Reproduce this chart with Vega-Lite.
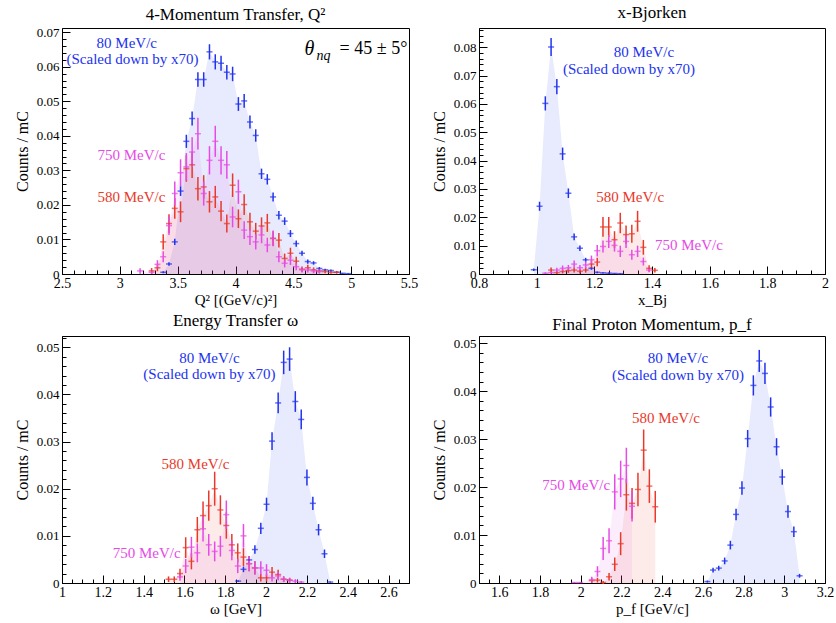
{
  "$schema": "https://vega.github.io/schema/vega-lite/v6.json",
  "padding": {"left": 13, "top": 3, "right": 0, "bottom": 0},
  "columns": 2,
  "spacing": {"row": 62, "column": 70},
  "bounds": "flush",
  "config": {
    "font": "Liberation Serif, Times New Roman, DejaVu Serif, serif",
    "view": {"stroke": "black", "strokeWidth": 1},
    "axis": {"domainColor": "black", "tickColor": "black", "labelColor": "black", "titleColor": "black", "labelFont": "Liberation Serif, Times New Roman, DejaVu Serif, serif", "labelFontSize": 14, "titleFont": "Liberation Serif, Times New Roman, DejaVu Serif, serif", "titleFontSize": 15, "titleFontWeight": "normal", "grid": false, "labelOverlap": false, "labelFlush": false, "labelBound": false, "labelPadding": 3, "titlePadding": 4},
    "axisX": {"labelPadding": 10, "titlePadding": -2},
    "axisY": {"labelPadding": 11, "labelFontSize": 13, "titleFontSize": 16, "titlePadding": 6},
    "title": {"font": "Liberation Serif, Times New Roman, DejaVu Serif, serif", "fontSize": 17, "fontWeight": "normal", "color": "black", "offset": 2},
    "text": {"font": "Liberation Serif, Times New Roman, DejaVu Serif, serif", "fontSize": 15}
  },
  "datasets": {
    "q2": [
      {"x": 3.375, "y": 0.0005, "e": 0.0003, "s": "80"}, {"x": 3.425, "y": 0.0029, "e": 0.0005, "s": "80"}, {"x": 3.475, "y": 0.0093, "e": 0.0009, "s": "80"}, {"x": 3.525, "y": 0.024, "e": 0.0014, "s": "80"}, {"x": 3.575, "y": 0.0384, "e": 0.0019, "s": "80"}, {"x": 3.625, "y": 0.045, "e": 0.002, "s": "80"}, {"x": 3.675, "y": 0.0563, "e": 0.0021, "s": "80"}, {"x": 3.725, "y": 0.0563, "e": 0.0021, "s": "80"}, {"x": 3.775, "y": 0.0643, "e": 0.0022, "s": "80"}, {"x": 3.825, "y": 0.0614, "e": 0.0022, "s": "80"}, {"x": 3.875, "y": 0.061, "e": 0.0022, "s": "80"}, {"x": 3.925, "y": 0.0584, "e": 0.0021, "s": "80"}, {"x": 3.975, "y": 0.0579, "e": 0.0021, "s": "80"}, {"x": 4.025, "y": 0.0492, "e": 0.002, "s": "80"}, {"x": 4.075, "y": 0.0501, "e": 0.002, "s": "80"}, {"x": 4.125, "y": 0.044, "e": 0.0019, "s": "80"}, {"x": 4.175, "y": 0.0401, "e": 0.0018, "s": "80"}, {"x": 4.225, "y": 0.029, "e": 0.0015, "s": "80"}, {"x": 4.275, "y": 0.0274, "e": 0.0015, "s": "80"}, {"x": 4.325, "y": 0.0223, "e": 0.0013, "s": "80"}, {"x": 4.375, "y": 0.017, "e": 0.0012, "s": "80"}, {"x": 4.425, "y": 0.0153, "e": 0.0011, "s": "80"}, {"x": 4.475, "y": 0.0117, "e": 0.001, "s": "80"}, {"x": 4.525, "y": 0.0088, "e": 0.0009, "s": "80"}, {"x": 4.575, "y": 0.006, "e": 0.0007, "s": "80"}, {"x": 4.625, "y": 0.0036, "e": 0.0006, "s": "80"}, {"x": 4.675, "y": 0.0032, "e": 0.0005, "s": "80"}, {"x": 4.725, "y": 0.0016, "e": 0.0004, "s": "80"}, {"x": 4.775, "y": 0.0012, "e": 0.0003, "s": "80"}, {"x": 4.825, "y": 0.001, "e": 0.0003, "s": "80"}, {"x": 4.875, "y": 0.0005, "e": 0.0002, "s": "80"}, {"x": 4.925, "y": 0.0002, "e": 0.0001, "s": "80"}, {"x": 4.975, "y": 0.0001, "e": 0.0001, "s": "80"},
      {"x": 3.275, "y": 0.0009, "e": 0.0008, "s": "580"}, {"x": 3.325, "y": 0.0018, "e": 0.001, "s": "580"}, {"x": 3.375, "y": 0.0093, "e": 0.0022, "s": "580"}, {"x": 3.425, "y": 0.0146, "e": 0.0027, "s": "580"}, {"x": 3.475, "y": 0.019, "e": 0.003, "s": "580"}, {"x": 3.525, "y": 0.018, "e": 0.003, "s": "580"}, {"x": 3.575, "y": 0.0305, "e": 0.0038, "s": "580"}, {"x": 3.625, "y": 0.0316, "e": 0.0038, "s": "580"}, {"x": 3.675, "y": 0.0247, "e": 0.0034, "s": "580"}, {"x": 3.725, "y": 0.0252, "e": 0.0034, "s": "580"}, {"x": 3.775, "y": 0.0209, "e": 0.0031, "s": "580"}, {"x": 3.825, "y": 0.0223, "e": 0.0032, "s": "580"}, {"x": 3.875, "y": 0.0182, "e": 0.0029, "s": "580"}, {"x": 3.925, "y": 0.0146, "e": 0.0026, "s": "580"}, {"x": 3.975, "y": 0.0257, "e": 0.0034, "s": "580"}, {"x": 4.025, "y": 0.016, "e": 0.0027, "s": "580"}, {"x": 4.075, "y": 0.0201, "e": 0.003, "s": "580"}, {"x": 4.125, "y": 0.0151, "e": 0.0026, "s": "580"}, {"x": 4.175, "y": 0.0124, "e": 0.0024, "s": "580"}, {"x": 4.225, "y": 0.0139, "e": 0.0025, "s": "580"}, {"x": 4.275, "y": 0.0148, "e": 0.0026, "s": "580"}, {"x": 4.325, "y": 0.0103, "e": 0.0021, "s": "580"}, {"x": 4.375, "y": 0.0098, "e": 0.0021, "s": "580"}, {"x": 4.425, "y": 0.0045, "e": 0.0014, "s": "580"}, {"x": 4.475, "y": 0.006, "e": 0.0016, "s": "580"}, {"x": 4.525, "y": 0.0037, "e": 0.0013, "s": "580"}, {"x": 4.575, "y": 0.0014, "e": 0.0008, "s": "580"}, {"x": 4.625, "y": 0.0018, "e": 0.0009, "s": "580"}, {"x": 4.675, "y": 0.0012, "e": 0.0007, "s": "580"}, {"x": 4.725, "y": 0.0009, "e": 0.0006, "s": "580"}, {"x": 4.775, "y": 0.0007, "e": 0.0005, "s": "580"}, {"x": 4.825, "y": 0.0005, "e": 0.0004, "s": "580"}, {"x": 4.875, "y": 0.0005, "e": 0.0004, "s": "580"},
      {"x": 3.175, "y": 0.0009, "e": 0.0008, "s": "750"}, {"x": 3.275, "y": 0.0005, "e": 0.0005, "s": "750"}, {"x": 3.325, "y": 0.0028, "e": 0.0012, "s": "750"}, {"x": 3.375, "y": 0.005, "e": 0.0016, "s": "750"}, {"x": 3.425, "y": 0.014, "e": 0.0027, "s": "750"}, {"x": 3.475, "y": 0.0233, "e": 0.0035, "s": "750"}, {"x": 3.525, "y": 0.0293, "e": 0.0039, "s": "750"}, {"x": 3.575, "y": 0.031, "e": 0.004, "s": "750"}, {"x": 3.625, "y": 0.0353, "e": 0.0043, "s": "750"}, {"x": 3.675, "y": 0.0406, "e": 0.0046, "s": "750"}, {"x": 3.725, "y": 0.0233, "e": 0.0035, "s": "750"}, {"x": 3.775, "y": 0.0329, "e": 0.0041, "s": "750"}, {"x": 3.825, "y": 0.0384, "e": 0.0045, "s": "750"}, {"x": 3.875, "y": 0.0329, "e": 0.0041, "s": "750"}, {"x": 3.925, "y": 0.0316, "e": 0.004, "s": "750"}, {"x": 3.975, "y": 0.0165, "e": 0.003, "s": "750"}, {"x": 4.025, "y": 0.0238, "e": 0.0035, "s": "750"}, {"x": 4.075, "y": 0.0127, "e": 0.0026, "s": "750"}, {"x": 4.125, "y": 0.0108, "e": 0.0024, "s": "750"}, {"x": 4.175, "y": 0.0093, "e": 0.0022, "s": "750"}, {"x": 4.225, "y": 0.0113, "e": 0.0024, "s": "750"}, {"x": 4.275, "y": 0.0084, "e": 0.0021, "s": "750"}, {"x": 4.325, "y": 0.0103, "e": 0.0023, "s": "750"}, {"x": 4.375, "y": 0.005, "e": 0.0016, "s": "750"}, {"x": 4.425, "y": 0.0031, "e": 0.0012, "s": "750"}, {"x": 4.475, "y": 0.004, "e": 0.0014, "s": "750"}, {"x": 4.525, "y": 0.0021, "e": 0.001, "s": "750"}, {"x": 4.575, "y": 0.0012, "e": 0.0008, "s": "750"}, {"x": 4.625, "y": 0.0012, "e": 0.0008, "s": "750"}, {"x": 4.675, "y": 0.0009, "e": 0.0007, "s": "750"}, {"x": 4.725, "y": 0.0007, "e": 0.0006, "s": "750"}
    ],
    "xbj": [
      {"x": 0.99, "y": 0.0015, "e": 0.0004, "s": "80"}, {"x": 1.01, "y": 0.0239, "e": 0.0016, "s": "80"}, {"x": 1.03, "y": 0.0602, "e": 0.0025, "s": "80"}, {"x": 1.05, "y": 0.0801, "e": 0.0032, "s": "80"}, {"x": 1.07, "y": 0.0661, "e": 0.0027, "s": "80"}, {"x": 1.09, "y": 0.0424, "e": 0.0022, "s": "80"}, {"x": 1.11, "y": 0.0285, "e": 0.0017, "s": "80"}, {"x": 1.13, "y": 0.0131, "e": 0.0012, "s": "80"}, {"x": 1.15, "y": 0.0091, "e": 0.001, "s": "80"}, {"x": 1.17, "y": 0.005, "e": 0.0007, "s": "80"}, {"x": 1.19, "y": 0.002, "e": 0.0005, "s": "80"}, {"x": 1.21, "y": 0.0006, "e": 0.0003, "s": "80"}, {"x": 1.23, "y": 0.0004, "e": 0.0002, "s": "80"}, {"x": 1.25, "y": 0.0003, "e": 0.0002, "s": "80"}, {"x": 1.27, "y": 0.0002, "e": 0.0001, "s": "80"}, {"x": 1.29, "y": 0.0001, "e": 0.0001, "s": "80"},
      {"x": 1.05, "y": 0.0014, "e": 0.0009, "s": "580"}, {"x": 1.07, "y": 0.0005, "e": 0.0005, "s": "580"}, {"x": 1.09, "y": 0.0009, "e": 0.0007, "s": "580"}, {"x": 1.11, "y": 0.0012, "e": 0.0008, "s": "580"}, {"x": 1.13, "y": 0.0014, "e": 0.0009, "s": "580"}, {"x": 1.15, "y": 0.001, "e": 0.0008, "s": "580"}, {"x": 1.17, "y": 0.0014, "e": 0.0009, "s": "580"}, {"x": 1.19, "y": 0.0035, "e": 0.0014, "s": "580"}, {"x": 1.21, "y": 0.0042, "e": 0.0015, "s": "580"}, {"x": 1.23, "y": 0.0166, "e": 0.0035, "s": "580"}, {"x": 1.25, "y": 0.0166, "e": 0.0035, "s": "580"}, {"x": 1.27, "y": 0.0121, "e": 0.003, "s": "580"}, {"x": 1.29, "y": 0.018, "e": 0.0036, "s": "580"}, {"x": 1.31, "y": 0.0139, "e": 0.0032, "s": "580"}, {"x": 1.33, "y": 0.0142, "e": 0.0032, "s": "580"}, {"x": 1.35, "y": 0.0186, "e": 0.0037, "s": "580"}, {"x": 1.37, "y": 0.0094, "e": 0.0026, "s": "580"}, {"x": 1.39, "y": 0.002, "e": 0.0011, "s": "580"}, {"x": 1.41, "y": 0.0013, "e": 0.0008, "s": "580"},
      {"x": 1.03, "y": 0.0003, "e": 0.0003, "s": "750"}, {"x": 1.05, "y": 0.0005, "e": 0.0004, "s": "750"}, {"x": 1.07, "y": 0.0014, "e": 0.0008, "s": "750"}, {"x": 1.09, "y": 0.002, "e": 0.001, "s": "750"}, {"x": 1.11, "y": 0.0022, "e": 0.001, "s": "750"}, {"x": 1.13, "y": 0.0035, "e": 0.0013, "s": "750"}, {"x": 1.15, "y": 0.0022, "e": 0.001, "s": "750"}, {"x": 1.17, "y": 0.0032, "e": 0.0012, "s": "750"}, {"x": 1.19, "y": 0.005, "e": 0.0015, "s": "750"}, {"x": 1.21, "y": 0.0082, "e": 0.002, "s": "750"}, {"x": 1.23, "y": 0.0097, "e": 0.0021, "s": "750"}, {"x": 1.25, "y": 0.0115, "e": 0.0023, "s": "750"}, {"x": 1.27, "y": 0.0101, "e": 0.0022, "s": "750"}, {"x": 1.29, "y": 0.008, "e": 0.002, "s": "750"}, {"x": 1.31, "y": 0.0115, "e": 0.0023, "s": "750"}, {"x": 1.33, "y": 0.0068, "e": 0.0018, "s": "750"}, {"x": 1.35, "y": 0.008, "e": 0.002, "s": "750"}, {"x": 1.37, "y": 0.0044, "e": 0.0014, "s": "750"}, {"x": 1.39, "y": 0.0014, "e": 0.0008, "s": "750"}
    ],
    "omega": [
      {"x": 1.863, "y": 0.0004, "e": 0.0002, "s": "80"}, {"x": 1.889, "y": 0.0029, "e": 0.0006, "s": "80"}, {"x": 1.917, "y": 0.0049, "e": 0.0008, "s": "80"}, {"x": 1.945, "y": 0.0071, "e": 0.0009, "s": "80"}, {"x": 1.974, "y": 0.0116, "e": 0.0012, "s": "80"}, {"x": 2.002, "y": 0.0167, "e": 0.0014, "s": "80"}, {"x": 2.029, "y": 0.0301, "e": 0.0019, "s": "80"}, {"x": 2.059, "y": 0.0382, "e": 0.0022, "s": "80"}, {"x": 2.086, "y": 0.0468, "e": 0.0025, "s": "80"}, {"x": 2.115, "y": 0.0475, "e": 0.0025, "s": "80"}, {"x": 2.143, "y": 0.0385, "e": 0.0022, "s": "80"}, {"x": 2.172, "y": 0.0347, "e": 0.0021, "s": "80"}, {"x": 2.2, "y": 0.0224, "e": 0.0017, "s": "80"}, {"x": 2.229, "y": 0.0169, "e": 0.0014, "s": "80"}, {"x": 2.257, "y": 0.0113, "e": 0.0012, "s": "80"}, {"x": 2.286, "y": 0.0062, "e": 0.0009, "s": "80"}, {"x": 2.314, "y": 0.0002, "e": 0.0001, "s": "80"},
      {"x": 1.522, "y": 0.0008, "e": 0.0006, "s": "580"}, {"x": 1.55, "y": 0.0008, "e": 0.0006, "s": "580"}, {"x": 1.578, "y": 0.002, "e": 0.001, "s": "580"}, {"x": 1.606, "y": 0.0075, "e": 0.0022, "s": "580"}, {"x": 1.634, "y": 0.0046, "e": 0.0017, "s": "580"}, {"x": 1.663, "y": 0.0113, "e": 0.0027, "s": "580"}, {"x": 1.691, "y": 0.0143, "e": 0.003, "s": "580"}, {"x": 1.719, "y": 0.0164, "e": 0.0032, "s": "580"}, {"x": 1.748, "y": 0.02, "e": 0.0036, "s": "580"}, {"x": 1.776, "y": 0.0155, "e": 0.0031, "s": "580"}, {"x": 1.805, "y": 0.0122, "e": 0.0028, "s": "580"}, {"x": 1.832, "y": 0.0081, "e": 0.0023, "s": "580"}, {"x": 1.861, "y": 0.0064, "e": 0.002, "s": "580"}, {"x": 1.889, "y": 0.0055, "e": 0.0019, "s": "580"}, {"x": 1.917, "y": 0.0041, "e": 0.0016, "s": "580"}, {"x": 1.945, "y": 0.0032, "e": 0.0014, "s": "580"}, {"x": 1.974, "y": 0.0011, "e": 0.0008, "s": "580"}, {"x": 2.002, "y": 0.0011, "e": 0.0008, "s": "580"}, {"x": 2.029, "y": 0.0023, "e": 0.0011, "s": "580"}, {"x": 2.059, "y": 0.0018, "e": 0.001, "s": "580"}, {"x": 2.086, "y": 0.0008, "e": 0.0006, "s": "580"}, {"x": 2.115, "y": 0.0006, "e": 0.0005, "s": "580"},
      {"x": 1.578, "y": 0.0013, "e": 0.0008, "s": "750"}, {"x": 1.606, "y": 0.0036, "e": 0.0015, "s": "750"}, {"x": 1.634, "y": 0.0076, "e": 0.0022, "s": "750"}, {"x": 1.663, "y": 0.0064, "e": 0.002, "s": "750"}, {"x": 1.691, "y": 0.0115, "e": 0.0027, "s": "750"}, {"x": 1.719, "y": 0.0081, "e": 0.0023, "s": "750"}, {"x": 1.748, "y": 0.0067, "e": 0.0021, "s": "750"}, {"x": 1.776, "y": 0.0078, "e": 0.0022, "s": "750"}, {"x": 1.805, "y": 0.0145, "e": 0.003, "s": "750"}, {"x": 1.832, "y": 0.0069, "e": 0.0021, "s": "750"}, {"x": 1.861, "y": 0.0036, "e": 0.0015, "s": "750"}, {"x": 1.889, "y": 0.01, "e": 0.0025, "s": "750"}, {"x": 1.917, "y": 0.0041, "e": 0.0016, "s": "750"}, {"x": 1.945, "y": 0.0032, "e": 0.0014, "s": "750"}, {"x": 1.974, "y": 0.0032, "e": 0.0014, "s": "750"}, {"x": 2.002, "y": 0.0027, "e": 0.0013, "s": "750"}, {"x": 2.029, "y": 0.0011, "e": 0.0008, "s": "750"}, {"x": 2.059, "y": 0.0015, "e": 0.0009, "s": "750"}, {"x": 2.086, "y": 0.0008, "e": 0.0006, "s": "750"}, {"x": 2.115, "y": 0.0006, "e": 0.0005, "s": "750"}, {"x": 2.143, "y": 0.0004, "e": 0.0004, "s": "750"}, {"x": 2.172, "y": 0.0002, "e": 0.0002, "s": "750"}
    ],
    "pf": [
      {"x": 2.622, "y": 0.0003, "e": 0.0002, "s": "80"}, {"x": 2.65, "y": 0.0027, "e": 0.0005, "s": "80"}, {"x": 2.678, "y": 0.0031, "e": 0.0005, "s": "80"}, {"x": 2.707, "y": 0.0046, "e": 0.0007, "s": "80"}, {"x": 2.735, "y": 0.0079, "e": 0.0009, "s": "80"}, {"x": 2.763, "y": 0.0143, "e": 0.0012, "s": "80"}, {"x": 2.792, "y": 0.0198, "e": 0.0014, "s": "80"}, {"x": 2.82, "y": 0.0301, "e": 0.0018, "s": "80"}, {"x": 2.848, "y": 0.0412, "e": 0.0021, "s": "80"}, {"x": 2.877, "y": 0.0463, "e": 0.0023, "s": "80"}, {"x": 2.905, "y": 0.0437, "e": 0.0022, "s": "80"}, {"x": 2.933, "y": 0.0367, "e": 0.002, "s": "80"}, {"x": 2.962, "y": 0.0284, "e": 0.0018, "s": "80"}, {"x": 2.99, "y": 0.0221, "e": 0.0016, "s": "80"}, {"x": 3.018, "y": 0.0149, "e": 0.0013, "s": "80"}, {"x": 3.047, "y": 0.0107, "e": 0.0011, "s": "80"}, {"x": 3.075, "y": 0.0015, "e": 0.0004, "s": "80"},
      {"x": 2.054, "y": 0.0005, "e": 0.0005, "s": "580"}, {"x": 2.082, "y": 0.0006, "e": 0.0005, "s": "580"}, {"x": 2.11, "y": 0.0001, "e": 0.0003, "s": "580"}, {"x": 2.139, "y": 0.0013, "e": 0.0008, "s": "580"}, {"x": 2.167, "y": 0.0039, "e": 0.0014, "s": "580"}, {"x": 2.196, "y": 0.0082, "e": 0.0024, "s": "580"}, {"x": 2.224, "y": 0.0184, "e": 0.0033, "s": "580"}, {"x": 2.252, "y": 0.0166, "e": 0.0032, "s": "580"}, {"x": 2.281, "y": 0.0195, "e": 0.0035, "s": "580"}, {"x": 2.309, "y": 0.0277, "e": 0.0043, "s": "580"}, {"x": 2.337, "y": 0.0202, "e": 0.0035, "s": "580"}, {"x": 2.366, "y": 0.0159, "e": 0.0033, "s": "580"},
      {"x": 1.969, "y": 0.0001, "e": 0.0001, "s": "750"}, {"x": 1.997, "y": 0.0001, "e": 0.0001, "s": "750"}, {"x": 2.054, "y": 0.0007, "e": 0.0006, "s": "750"}, {"x": 2.082, "y": 0.0024, "e": 0.0011, "s": "750"}, {"x": 2.11, "y": 0.0072, "e": 0.0024, "s": "750"}, {"x": 2.139, "y": 0.0088, "e": 0.0026, "s": "750"}, {"x": 2.167, "y": 0.019, "e": 0.0037, "s": "750"}, {"x": 2.196, "y": 0.0217, "e": 0.0038, "s": "750"}, {"x": 2.224, "y": 0.0245, "e": 0.0037, "s": "750"}, {"x": 2.252, "y": 0.016, "e": 0.0032, "s": "750"}
    ],
    "q2lab": [
      {"x": 3.06, "y": 0.0668, "t": "80 MeV/c", "s": "80"}, {"x": 3.11, "y": 0.0621, "t": "(Scaled down by x70)", "s": "80"}, {"x": 3.1, "y": 0.0344, "t": "750 MeV/c", "s": "750"}, {"x": 3.1, "y": 0.0222, "t": "580 MeV/c", "s": "580"}
    ],
    "xbjlab": [
      {"x": 1.372, "y": 0.0785, "t": "80 MeV/c", "s": "80"}, {"x": 1.32, "y": 0.0724, "t": "(Scaled down by x70)", "s": "80"}, {"x": 1.324, "y": 0.0271, "t": "580 MeV/c", "s": "580"}, {"x": 1.528, "y": 0.0103, "t": "750 MeV/c", "s": "750"}
    ],
    "omegalab": [
      {"x": 1.722, "y": 0.0477, "t": "80 MeV/c", "s": "80"}, {"x": 1.722, "y": 0.0443, "t": "(Scaled down by x70)", "s": "80"}, {"x": 1.654, "y": 0.0252, "t": "580 MeV/c", "s": "580"}, {"x": 1.415, "y": 0.0064, "t": "750 MeV/c", "s": "750"}
    ],
    "pflab": [
      {"x": 2.478, "y": 0.0469, "t": "80 MeV/c", "s": "80"}, {"x": 2.478, "y": 0.0433, "t": "(Scaled down by x70)", "s": "80"}, {"x": 2.419, "y": 0.0344, "t": "580 MeV/c", "s": "580"}, {"x": 1.977, "y": 0.0204, "t": "750 MeV/c", "s": "750"}
    ],
    "theta1": [{"x": 4.64, "y": 0.0652, "t": "θ"}],
    "theta2": [{"x": 4.70, "y": 0.0632, "t": "nq"}],
    "theta3": [{"x": 4.90, "y": 0.0652, "t": "= 45 ± 5°"}]
  },
  "concat": [
    {
      "width": 347, "height": 246,
      "title": "4-Momentum Transfer, Q²",
      "encoding": {
        "x": {"field": "x", "type": "quantitative", "scale": {"domain": [2.5, 5.5], "nice": false, "zero": false},
          "axis": {"title": "Q² [(GeV/c)²]", "values": [2.5,2.6,2.7,2.8,2.9,3,3.1,3.2,3.3,3.4,3.5,3.6,3.7,3.8,3.9,4,4.1,4.2,4.3,4.4,4.5,4.6,4.7,4.8,4.9,5,5.1,5.2,5.3,5.4,5.5],
            "labelExpr": "abs(datum.value*2-round(datum.value*2))<0.001 ? format(datum.value,'~g') : ''",
            "tickSize": {"condition": {"test": "abs(datum.value*2-round(datum.value*2))<0.001", "value": -8}, "value": -4}}},
        "y": {"field": "y", "type": "quantitative", "stack": null, "scale": {"domain": [0, 0.0712], "nice": false},
          "axis": {"title": "Counts / mC", "values": [0,0.002,0.004,0.006,0.008,0.01,0.012,0.014,0.016,0.018,0.02,0.022,0.024,0.026,0.028,0.03,0.032,0.034,0.036,0.038,0.04,0.042,0.044,0.046,0.048,0.05,0.052,0.054,0.056,0.058,0.06,0.062,0.064,0.066,0.068,0.07],
            "labelExpr": "abs(datum.value*100-round(datum.value*100))<0.001 ? format(datum.value,'~g') : ''",
            "tickSize": {"condition": {"test": "abs(datum.value*100-round(datum.value*100))<0.001", "value": -8}, "value": -4}}},
        "color": {"field": "s", "type": "nominal", "scale": {"domain": ["80", "580", "750"], "range": ["#2233ee", "#e8392b", "#e64be6"]}, "legend": null}
      },
      "layer": [
        {"data": {"name": "q2"}, "mark": {"type": "area", "interpolate": "linear", "fillOpacity": 0.1}},
        {"data": {"name": "q2"}, "mark": {"type": "errorbar", "thickness": 1.5}, "encoding": {"yError": {"field": "e"}}},
        {"data": {"name": "q2"}, "mark": {"type": "tick", "orient": "horizontal", "size": 6, "thickness": 1.5}},
        {"data": {"name": "q2lab"}, "mark": {"type": "text", "fontSize": 15, "font": "Liberation Serif, Times New Roman, serif"}, "encoding": {"text": {"field": "t"}}},
        {"data": {"name": "theta1"}, "mark": {"type": "text", "fontSize": 20, "fontStyle": "italic", "font": "Liberation Serif, Times New Roman, serif"}, "encoding": {"text": {"field": "t"}, "color": {"value": "black"}}},
        {"data": {"name": "theta2"}, "mark": {"type": "text", "fontSize": 14, "fontStyle": "italic", "align": "left", "font": "Liberation Serif, Times New Roman, serif"}, "encoding": {"text": {"field": "t"}, "color": {"value": "black"}}},
        {"data": {"name": "theta3"}, "mark": {"type": "text", "fontSize": 18, "align": "left", "font": "Liberation Serif, Times New Roman, serif"}, "encoding": {"text": {"field": "t"}, "color": {"value": "black"}}}
      ]
    },
    {
      "width": 346, "height": 246,
      "title": "x-Bjorken",
      "encoding": {
        "x": {"field": "x", "type": "quantitative", "scale": {"domain": [0.8, 2.0], "nice": false, "zero": false},
          "axis": {"title": "x_Bj", "values": [0.8,0.85,0.9,0.95,1,1.05,1.1,1.15,1.2,1.25,1.3,1.35,1.4,1.45,1.5,1.55,1.6,1.65,1.7,1.75,1.8,1.85,1.9,1.95,2],
            "labelExpr": "abs(datum.value*5-round(datum.value*5))<0.001 ? format(datum.value,'~g') : ''",
            "tickSize": {"condition": {"test": "abs(datum.value*5-round(datum.value*5))<0.001", "value": -8}, "value": -4}}},
        "y": {"field": "y", "type": "quantitative", "stack": null, "scale": {"domain": [0, 0.0868], "nice": false},
          "axis": {"title": "Counts / mC", "values": [0,0.002,0.004,0.006,0.008,0.01,0.012,0.014,0.016,0.018,0.02,0.022,0.024,0.026,0.028,0.03,0.032,0.034,0.036,0.038,0.04,0.042,0.044,0.046,0.048,0.05,0.052,0.054,0.056,0.058,0.06,0.062,0.064,0.066,0.068,0.07,0.072,0.074,0.076,0.078,0.08,0.082,0.084,0.086],
            "labelExpr": "abs(datum.value*100-round(datum.value*100))<0.001 ? format(datum.value,'~g') : ''",
            "tickSize": {"condition": {"test": "abs(datum.value*100-round(datum.value*100))<0.001", "value": -8}, "value": -4}}},
        "color": {"field": "s", "type": "nominal", "scale": {"domain": ["80", "580", "750"], "range": ["#2233ee", "#e8392b", "#e64be6"]}, "legend": null}
      },
      "layer": [
        {"data": {"name": "xbj"}, "mark": {"type": "area", "interpolate": "linear", "fillOpacity": 0.1}},
        {"data": {"name": "xbj"}, "mark": {"type": "errorbar", "thickness": 1.5}, "encoding": {"yError": {"field": "e"}}},
        {"data": {"name": "xbj"}, "mark": {"type": "tick", "orient": "horizontal", "size": 6, "thickness": 1.5}},
        {"data": {"name": "xbjlab"}, "mark": {"type": "text", "fontSize": 15, "font": "Liberation Serif, Times New Roman, serif"}, "encoding": {"text": {"field": "t"}}}
      ]
    },
    {
      "width": 347, "height": 247,
      "title": "Energy Transfer ω",
      "encoding": {
        "x": {"field": "x", "type": "quantitative", "scale": {"domain": [1, 2.7], "nice": false, "zero": false},
          "axis": {"title": "ω [GeV]", "values": [1,1.05,1.1,1.15,1.2,1.25,1.3,1.35,1.4,1.45,1.5,1.55,1.6,1.65,1.7,1.75,1.8,1.85,1.9,1.95,2,2.05,2.1,2.15,2.2,2.25,2.3,2.35,2.4,2.45,2.5,2.55,2.6,2.65,2.7],
            "labelExpr": "abs(datum.value*5-round(datum.value*5))<0.001 && datum.value<2.65 ? format(datum.value,'~g') : ''",
            "tickSize": {"condition": {"test": "abs(datum.value*5-round(datum.value*5))<0.001", "value": -8}, "value": -4}}},
        "y": {"field": "y", "type": "quantitative", "stack": null, "scale": {"domain": [0, 0.0524], "nice": false},
          "axis": {"title": "Counts / mC", "values": [0,0.002,0.004,0.006,0.008,0.01,0.012,0.014,0.016,0.018,0.02,0.022,0.024,0.026,0.028,0.03,0.032,0.034,0.036,0.038,0.04,0.042,0.044,0.046,0.048,0.05,0.052],
            "labelExpr": "abs(datum.value*100-round(datum.value*100))<0.001 ? format(datum.value,'~g') : ''",
            "tickSize": {"condition": {"test": "abs(datum.value*100-round(datum.value*100))<0.001", "value": -8}, "value": -4}}},
        "color": {"field": "s", "type": "nominal", "scale": {"domain": ["80", "580", "750"], "range": ["#2233ee", "#e8392b", "#e64be6"]}, "legend": null}
      },
      "layer": [
        {"data": {"name": "omega"}, "mark": {"type": "area", "interpolate": "linear", "fillOpacity": 0.1}},
        {"data": {"name": "omega"}, "mark": {"type": "errorbar", "thickness": 1.5}, "encoding": {"yError": {"field": "e"}}},
        {"data": {"name": "omega"}, "mark": {"type": "tick", "orient": "horizontal", "size": 6, "thickness": 1.5}},
        {"data": {"name": "omegalab"}, "mark": {"type": "text", "fontSize": 15, "font": "Liberation Serif, Times New Roman, serif"}, "encoding": {"text": {"field": "t"}}}
      ]
    },
    {
      "width": 346, "height": 247,
      "title": "Final Proton Momentum, p_f",
      "encoding": {
        "x": {"field": "x", "type": "quantitative", "scale": {"domain": [1.5, 3.2], "nice": false, "zero": false},
          "axis": {"title": "p_f [GeV/c]", "values": [1.5,1.55,1.6,1.65,1.7,1.75,1.8,1.85,1.9,1.95,2,2.05,2.1,2.15,2.2,2.25,2.3,2.35,2.4,2.45,2.5,2.55,2.6,2.65,2.7,2.75,2.8,2.85,2.9,2.95,3,3.05,3.1,3.15,3.2],
            "labelExpr": "abs(datum.value*5-round(datum.value*5))<0.001 ? format(datum.value,'~g') : ''",
            "tickSize": {"condition": {"test": "abs(datum.value*5-round(datum.value*5))<0.001", "value": -8}, "value": -4}}},
        "y": {"field": "y", "type": "quantitative", "stack": null, "scale": {"domain": [0, 0.0515], "nice": false},
          "axis": {"title": "Counts / mC", "values": [0,0.002,0.004,0.006,0.008,0.01,0.012,0.014,0.016,0.018,0.02,0.022,0.024,0.026,0.028,0.03,0.032,0.034,0.036,0.038,0.04,0.042,0.044,0.046,0.048,0.05],
            "labelExpr": "abs(datum.value*100-round(datum.value*100))<0.001 ? format(datum.value,'~g') : ''",
            "tickSize": {"condition": {"test": "abs(datum.value*100-round(datum.value*100))<0.001", "value": -8}, "value": -4}}},
        "color": {"field": "s", "type": "nominal", "scale": {"domain": ["80", "580", "750"], "range": ["#2233ee", "#e8392b", "#e64be6"]}, "legend": null}
      },
      "layer": [
        {"data": {"name": "pf"}, "mark": {"type": "area", "interpolate": "linear", "fillOpacity": 0.1}},
        {"data": {"name": "pf"}, "mark": {"type": "errorbar", "thickness": 1.5}, "encoding": {"yError": {"field": "e"}}},
        {"data": {"name": "pf"}, "mark": {"type": "tick", "orient": "horizontal", "size": 6, "thickness": 1.5}},
        {"data": {"name": "pflab"}, "mark": {"type": "text", "fontSize": 15, "font": "Liberation Serif, Times New Roman, serif"}, "encoding": {"text": {"field": "t"}}}
      ]
    }
  ]
}
